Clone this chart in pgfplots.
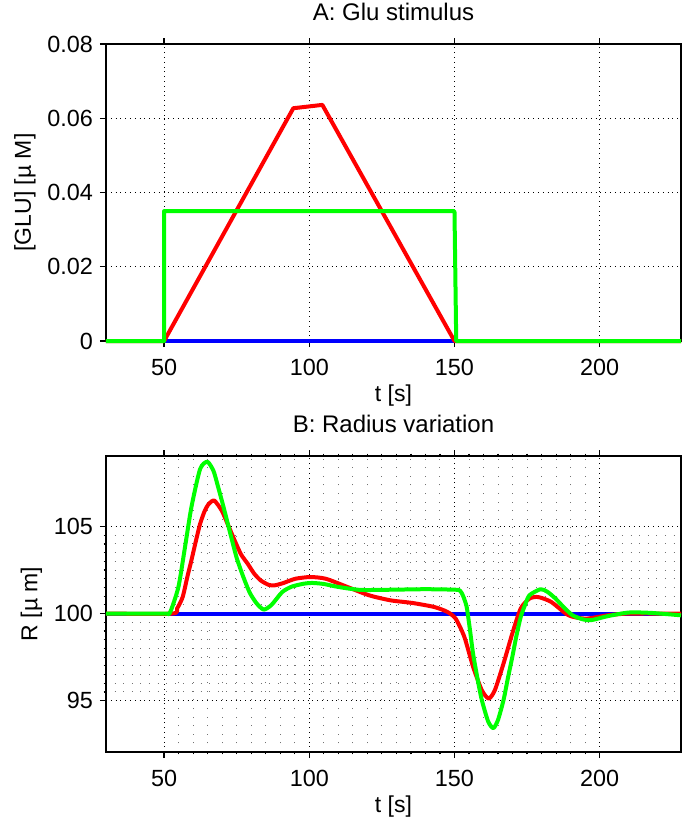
\documentclass[border=0pt]{standalone}
\usepackage{fontspec}
\setmainfont{Liberation Sans}
\usepackage{pgfplots}
\pgfplotsset{compat=1.18}
\definecolor{cR}{RGB}{255,0,0}
\definecolor{cG}{RGB}{0,255,0}
\definecolor{cB}{RGB}{0,0,255}
\begin{document}
\begin{tikzpicture}[font=\fontsize{11.5}{13}\selectfont]
\useasboundingbox (-53pt,22pt) rectangle (287.9pt,-388.5pt);
\pgfplotsset{
  myax/.style={
    scale only axis, width=287.5pt,
    xmin=30, xmax=228,
    xtick={50,100,150,200},
    tick align=outside,
    major tick length=3pt, minor tick length=1.2pt,
    every tick/.style={black, line width=0.6pt},
    axis line style={line width=0.8pt},
    grid=major,
    major grid style={dotted, black, line width=0.5pt},
    /pgf/number format/assume math mode=true,
    tick label style={font=\fontsize{11.7}{13}\selectfont},
    xticklabel style={yshift=-2.5pt},
    label style={font=\fontsize{11.5}{13}\selectfont},
    title style={font=\fontsize{12}{13}\selectfont, yshift=2pt},
    xlabel={t [s]},
    xlabel style={yshift=2.5pt},
    clip=false,
    every axis plot/.append style={line width=2pt, line join=round},
  }
}
\begin{axis}[myax, name=top, at={(0,0)}, anchor=north west,
  height=148.5pt,
  ymin=0, ymax=0.08,
  ytick={0,0.02,0.04,0.06,0.08},
  yticklabels={0,0.02,0.04,0.06,0.08},
  scaled y ticks=false,
  title={A: Glu stimulus},
  ylabel={[GLU] [µ M]},
  ylabel style={yshift=-1pt},
]
\addplot[cB] coordinates {(30,0) (228,0)};
\addplot[cR] coordinates {(30,0) (50,0) (94.5,0.0627) (104.5,0.0636) (150,0) (228,0)};
\addplot[cG] coordinates {(30,0) (50,0) (50,0.035) (150,0.035) (150.6,0) (228,0)};
\end{axis}

\begin{axis}[myax, name=bot, at={(0,-206pt)}, anchor=north west,
  height=148pt,
  ymin=92.05, ymax=109.05,
  ytick={95,100,105},
  minor x tick num=9, minor y tick num=9,
  grid=both,
  minor grid style={black!55, line width=0.5pt, dash pattern=on 0.5pt off 3.8pt},
  title={B: Radius variation},
  ylabel={R [µ m]},
  ylabel style={yshift=-1pt},
]
\addplot[cB] coordinates {(30,100) (228,100)};
\addplot[cR, smooth, tension=0.4] table {
30 100
52.7 100
54.5 100.3
56.4 100.95
58 102.1
59.4 103.05
61 104.2
62.4 105.15
64 105.9
65.4 106.3
67.3 106.49
69.9 105.9
72 105.1
74.3 104.2
76.5 103.4
78.8 102.86
81 102.3
83.3 101.9
86 101.65
88 101.62
91 101.75
95.2 102.0
100.4 102.1
105.7 102.0
113.1 101.53
120.6 101.05
128 100.76
135.5 100.61
143 100.38
147.5 100.1
150.4 99.71
153.4 98.66
156.4 96.95
159.4 95.6
161.8 95.12
163.9 95.6
166.9 97.14
169.9 98.85
172.8 100.29
175.8 100.86
178.8 100.95
183.3 100.67
189.3 99.9
195.2 99.71
202.7 99.9
210 100.0
228 100
};
\addplot[cG, smooth, tension=0.4] table {
30 100
50 100
52 100.05
54.9 101.5
57 103.6
59.4 106.1
62.4 108.3
64.9 108.72
67 108.2
68.4 107.4
70.5 106.1
72.8 104.6
75 103.2
77.3 102.1
79.5 101.2
81.8 100.6
84.3 100.23
87 100.5
90.7 101.24
94 101.55
98.2 101.72
101 101.76
105 101.7
110 101.53
117.6 101.36
128 101.37
140 101.4
150.4 101.37
152 101.3
153 101.0
154.2 100.38
155.3 99.1
156.4 97.7
158 96.2
159.4 95.04
161.6 93.8
163.4 93.42
165 93.9
166.9 95.04
168.4 96.3
169.9 97.5
171.3 98.7
172.8 99.8
174.3 100.5
175.8 101.05
179.6 101.4
182 101.25
184.8 100.86
188 100.3
190.7 99.9
194 99.68
197 99.62
202.7 99.85
210 100.06
217.6 100.04
228 99.9
};
\end{axis}
\end{tikzpicture}
\end{document}
